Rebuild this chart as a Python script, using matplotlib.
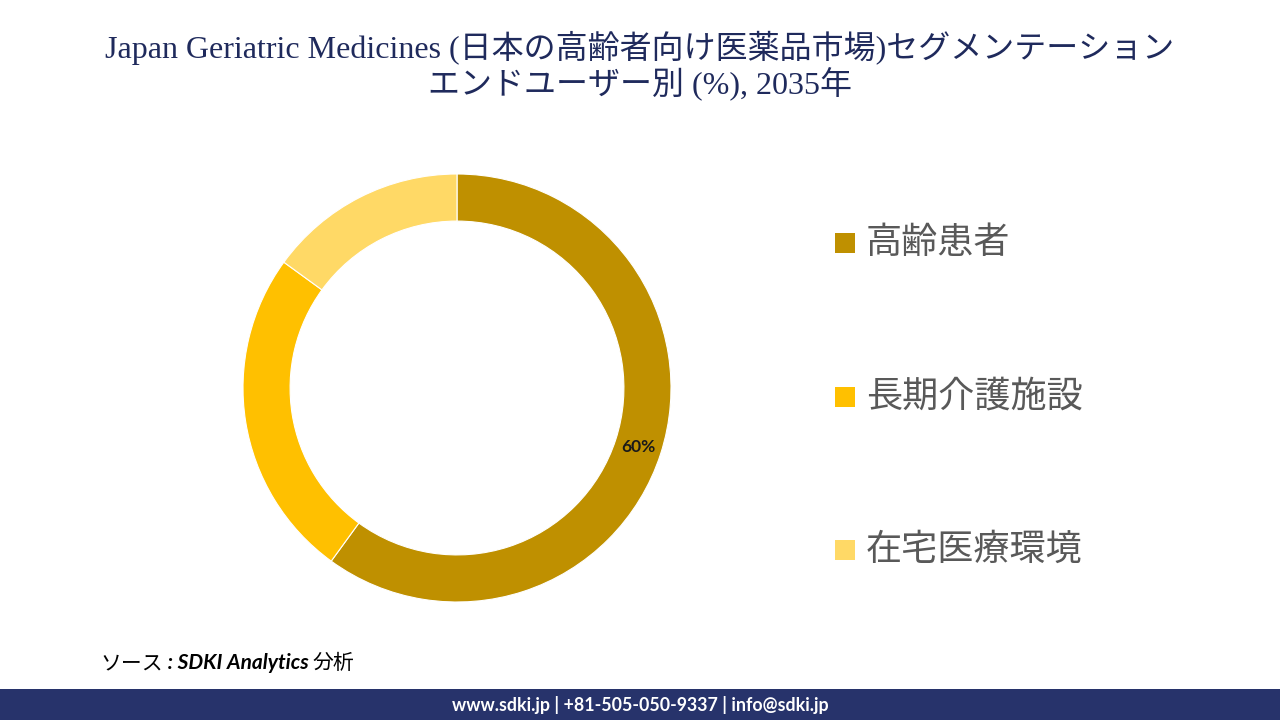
import matplotlib
matplotlib.use("Agg")
import matplotlib.pyplot as plt
from matplotlib.patches import Rectangle

# data
categories = ["高齢患者", "長期介護施設", "在宅医療環境"]
shares = [60, 25, 15]
colors = ["#BF9000", "#FFC000", "#FFD966"]

title = "Japan Geriatric Medicines (日本の高齢者向け医薬品市場)セグメンテーション\nエンドユーザー別 (%), 2035年"
source_parts = ["ソース", " : SDKI Analytics ", "分析"]
footer = "www.sdki.jp | +81-505-050-9337 | info@sdki.jp"

W, H = 1280, 720
fig = plt.figure(figsize=(12.8, 7.2), dpi=100)
fig.patch.set_facecolor("white")

# donut, centre (457, 388) px, radius 214 px
cx, cy, r = 457, 388, 214
ax = fig.add_axes([(cx - r) / W, (H - cy - r) / H, 2 * r / W, 2 * r / H])
wedges, _, autotexts = ax.pie(
    shares, colors=colors, startangle=90, counterclock=False,
    radius=1.0, autopct="%d%%", pctdistance=0.89,
    wedgeprops=dict(width=0.22, edgecolor="white", linewidth=0.8),
    textprops=dict(family=["Lato", "DejaVu Sans"], fontsize=12.5, fontweight="bold", color="#1a1a1a"),
)
for i, t in enumerate(autotexts):
    if i != 0:
        t.set_visible(False)
ax.set_xlim(-1, 1)
ax.set_ylim(-1, 1)
ax.set_aspect("equal")
ax.axis("off")

# legend drawn by hand
leg_rows = [243, 397, 550]
for cat, col, yy in zip(categories, colors, leg_rows):
    fig.patches.append(Rectangle((835 / W, (H - yy - 10) / H), 20 / W, 20 / H,
                                 transform=fig.transFigure, facecolor=col, edgecolor="none"))
    fig.text(866 / W, (H - yy) / H, cat, fontsize=26, color="#595959",
             family=["Noto Sans CJK JP"], va="center", ha="left")

# title
fig.text(0.5, (H - 66) / H, title, ha="center", va="center", fontsize=23,
         color="#1F2A5C", family=["Liberation Serif", "Noto Sans CJK JP"],
         linespacing=1.1)

# source line
fig.canvas.draw()
renderer = fig.canvas.get_renderer()
x = 100 / W
weights = ["normal", "bold", "normal"]
for part, wt in zip(source_parts, weights):
    t = fig.text(x, (H - 663) / H, part, fontsize=15, style="italic", fontweight=wt,
                 family=["Lato", "Noto Sans CJK JP"], color="black", va="center", ha="left")
    bb = t.get_window_extent(renderer)
    x += bb.width / W

# footer bar
fig.patches.append(Rectangle((0, 0), 1, 31 / H, transform=fig.transFigure,
                             facecolor="#27336B", edgecolor="none"))
fig.text(0.5, 15.5 / H, footer, ha="center", va="center", fontsize=12.8,
         fontweight="bold", color="white", family=["Lato", "DejaVu Sans"])

fig.savefig("out.png", dpi=100, facecolor="white")
